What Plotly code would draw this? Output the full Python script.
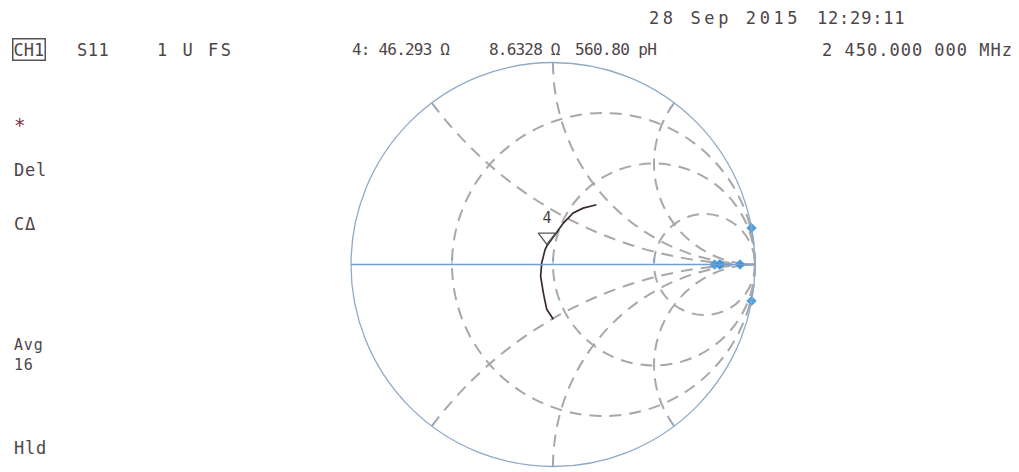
import plotly.graph_objects as go

# ---- data (normalised impedance z = r + jx) ----
trace_real = [0.866, 0.854, 0.875, 0.879, 0.894, 0.915, 0.926, 0.976, 1.014, 1.057, 1.122, 1.231]
trace_imag = [-0.506, -0.399, -0.249, -0.103, 0.014, 0.136, 0.173, 0.295, 0.435, 0.583, 0.696, 0.841]

z0_ohm = 50.0
marker_label = "4"
marker_r_ohm = 46.293
marker_x_ohm = 8.6328

blob_real = [9.0, 10.5, 26.0, 0.05, 0.05]
blob_imag = [0.0, 0.0, 0.0, 11.0, -11.0]

real_ticks = [1 / 3, 1, 3]
imag_ticks = [-2, -1, -0.5, 0.5, 1, 2]

# (text, left x px, centre y px, font size, letter spacing px) in page pixels
header_texts = [
    ("28 Sep 2015", 647, 18, 17, 3.6), ("12:29:11", 815, 18, 17, 0.8),
    ("S11", 75, 50, 17, 0.5), ("1 U FS", 155, 50, 17, 2.5),
    ("4: 46.293 Ω", 350, 50, 16, -0.8), ("8.6328 Ω", 487, 50, 16, -0.8),
    ("560.80 pH", 573, 50, 16, -0.6),
    ("2 450.000 000 MHz", 820, 50, 17, 1.0),
    ("Del", 12, 170, 17, 0.8), ("CΔ", 12, 224, 17, 0.8), ("Hld", 12, 448, 17, 0.8),
]

W, H = 1019, 472
OFF = 8  # page body margin around the figure
CX, CY, RAD = 553 - OFF, 264.5 - OFF, 202
FONT = "DejaVu Sans Mono"
TXT = "#4e4549"

# marker triangle drawn with its tip on the marker point: shift the symbol
# centre a few pixels up in reflection-coefficient space
mz = complex(marker_r_ohm / z0_ohm, marker_x_ohm / z0_ohm)
g = (mz - 1) / (mz + 1)
g_sym = g + 1j * (9.0 / RAD)
z_sym = (1 + g_sym) / (1 - g_sym)

fig = go.Figure()

fig.add_trace(go.Scattersmith(
    real=trace_real, imag=trace_imag, mode="lines",
    line=dict(color="#3a2a30", width=1.7), showlegend=False, hoverinfo="skip"))

fig.add_trace(go.Scattersmith(
    real=blob_real, imag=blob_imag, mode="markers",
    marker=dict(symbol="diamond", size=8, color="#2f8fd8", opacity=0.85),
    showlegend=False, hoverinfo="skip"))

fig.add_trace(go.Scattersmith(
    real=[z_sym.real], imag=[z_sym.imag], mode="markers+text",
    marker=dict(symbol="triangle-down-open", size=15, color="#555555", line=dict(width=1.3)),
    text=[marker_label], textposition="top center",
    textfont=dict(family=FONT, size=15, color="#444444"),
    showlegend=False, hoverinfo="skip"))

fig.update_layout(
    width=W, height=H,
    margin=dict(l=0, r=0, t=0, b=0),
    paper_bgcolor="white",
    smith=dict(
        domain=dict(x=[(CX - RAD) / W, (CX + RAD) / W],
                    y=[1 - (CY + RAD) / H, 1 - (CY - RAD) / H]),
        bgcolor="white",
        realaxis=dict(tickvals=real_ticks, showticklabels=False, ticks="top", ticklen=6,
                      tickcolor="#6f9fd6", tickwidth=1.2,
                      showgrid=True, gridcolor="#a8a8a8", griddash="12px,8px", gridwidth=1.5,
                      showline=True, linecolor="#6f9fd6", linewidth=1.5),
        imaginaryaxis=dict(tickvals=imag_ticks, showticklabels=False, ticks="inside", ticklen=8,
                           tickcolor="#8fa6c2", tickwidth=1.2,
                           showgrid=True, gridcolor="#a8a8a8", griddash="12px,8px", gridwidth=1.5,
                           showline=True, linecolor="#8fa9c6", linewidth=1.3),
    ),
)


def ann(text, px, py, size=17, color=TXT, spacing=0.0, **kw):
    if spacing:
        text = '<span style="letter-spacing:%.1fpx">%s</span>' % (spacing, text)
    d = dict(text=text, x=(px - OFF) / W, y=1 - (py - OFF) / H, xref="paper", yref="paper",
             xanchor="left", yanchor="middle", align="left", showarrow=False,
             font=dict(family=FONT, size=size, color=color))
    d.update(kw)
    return d


anns = [ann(t, px, py, size=sz, spacing=sp) for t, px, py, sz, sp in header_texts]
anns.append(ann("CH1", 12, 50, bordercolor="#555555", borderwidth=1.5, borderpad=0))
anns.append(ann("Avg<br>16", 12, 355, size=15, spacing=0.8))
anns.append(ann("*", 12, 125, size=19, color="#7b2d3f"))
fig.update_layout(annotations=anns)

fig.write_html("out.html")
